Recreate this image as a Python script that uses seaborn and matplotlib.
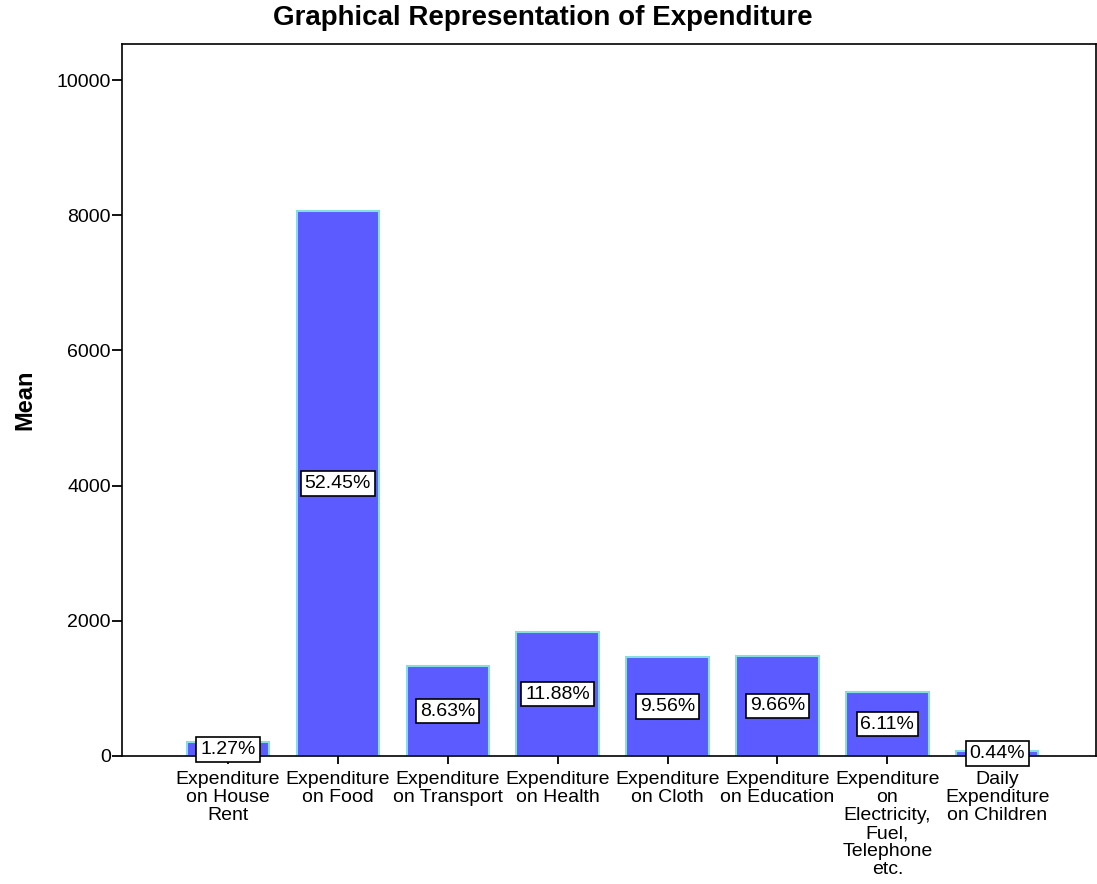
#!/usr/bin/env python3
"""Bar chart of mean expenditure by category with share labels."""

import matplotlib
matplotlib.use("Agg")
import matplotlib.pyplot as plt
import pandas as pd
import seaborn as sns

sns.set_style("white")
plt.rcParams["font.family"] = ["Liberation Sans", "DejaVu Sans"]
plt.rcParams["text.color"] = "black"
plt.rcParams["axes.labelcolor"] = "black"
plt.rcParams["xtick.color"] = "black"
plt.rcParams["ytick.color"] = "black"

CATEGORIES = [
    "Expenditure\non House\nRent",
    "Expenditure\non Food",
    "Expenditure\non Transport",
    "Expenditure\non Health",
    "Expenditure\non Cloth",
    "Expenditure\non Education",
    "Expenditure\non\nElectricity,\nFuel,\nTelephone\netc.",
    "Daily\nExpenditure\non Children",
]
MEANS = [200, 8062, 1330, 1832, 1466, 1482, 945, 72]
SHARES = ["1.27%", "52.45%", "8.63%", "11.88%", "9.56%", "9.66%", "6.11%", "0.44%"]
Y_TICKS = [0, 2000, 4000, 6000, 8000, 10000]


def main():
    df = pd.DataFrame({"category": CATEGORIES, "mean": MEANS})

    fig = plt.figure(figsize=(10.97, 8.84), dpi=100)
    ax = fig.add_axes([0.1112, 0.1448, 0.888, 0.8052])

    sns.barplot(data=df, x="category", y="mean", color="#5B5BFF",
                saturation=1, width=0.75, edgecolor="#86DEDE",
                linewidth=1.5, ax=ax)

    # Share labels in boxes at the middle of each bar
    for i, (val, txt) in enumerate(zip(MEANS, SHARES)):
        ax.text(i, val / 2, txt, ha="center", va="center", fontsize=14,
                bbox=dict(boxstyle="square,pad=0.2", fc="white",
                          ec="black", lw=1.2), zorder=5)

    ax.set_xlim(-0.965, 7.9)
    ax.set_ylim(0, 10530)
    ax.set_yticks(Y_TICKS)
    ax.set_yticklabels([str(t) for t in Y_TICKS], fontsize=14)
    ax.tick_params(axis="x", labelsize=14, length=6, width=1.3,
                   direction="out", bottom=True, pad=5)
    ax.tick_params(axis="y", length=7, width=1.3, direction="out",
                   left=True, pad=1)
    for lbl in ax.get_xticklabels():
        lbl.set_linespacing(1.08)

    for s in ax.spines.values():
        s.set_color("black")
        s.set_linewidth(1.2)

    ax.set_xlabel("")
    ax.set_ylabel("Mean", fontsize=17, fontweight="bold")
    ax.yaxis.set_label_coords(-0.0883, 0.501)
    fig.text(0.4945, 1 - 18 / 884, "Graphical Representation of Expenditure",
             ha="center", va="center", fontsize=20, fontweight="bold")

    fig.savefig("out.png", dpi=100)


if __name__ == "__main__":
    main()
